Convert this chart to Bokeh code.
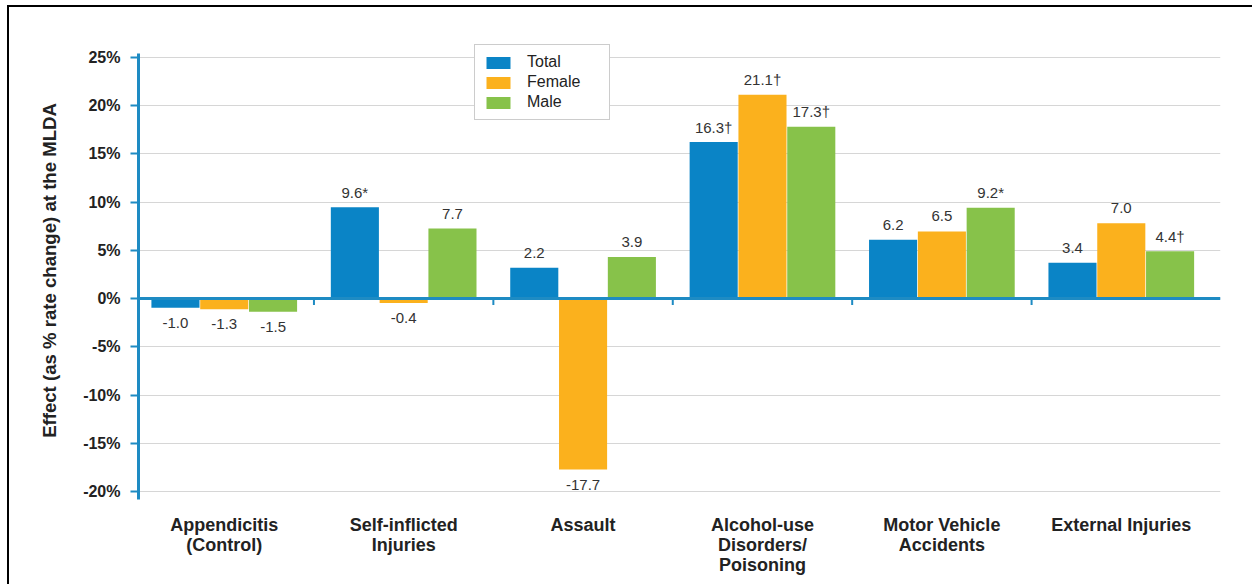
from bokeh.plotting import figure
from bokeh.models import (Range1d, FixedTicker, PrintfTickFormatter, Span,
                          Legend, LegendItem, ColumnDataSource)
from bokeh.core.properties import value
from bokeh.embed import file_html
from bokeh.resources import INLINE

# ---- data ----
categories = ["Appendicitis\n(Control)", "Self-inflicted\nInjuries", "Assault",
              "Alcohol-use\nDisorders/\nPoisoning", "Motor Vehicle\nAccidents",
              "External Injuries"]
series_names = ["Total", "Female", "Male"]
# bar heights as drawn in the picture (%)
total_vals = [-0.95, 9.45, 3.2, 16.2, 6.1, 3.7]
female_vals = [-1.1, -0.45, -17.7, 21.1, 6.95, 7.8]
male_vals = [-1.35, 7.25, 4.3, 17.8, 9.4, 4.9]
# printed value labels
total_labels = ["-1.0", "9.6*", "2.2", "16.3\u2020", "6.2", "3.4"]
female_labels = ["-1.3", "-0.4", "-17.7", "21.1\u2020", "6.5", "7.0"]
male_labels = ["-1.5", "7.7", "3.9", "17.3\u2020", "9.2*", "4.4\u2020"]
y_ticks = [-20, -15, -10, -5, 0, 5, 10, 15, 20, 25]

# ---- style ----
colors = ["#0A84C6", "#FBB11D", "#87C24A"]
axis_blue = "#1E8BC3"
FONT = "Liberation Sans"
BAR_STEP = 0.272
BAR_W = 0.268

p = figure(width=1245, height=579, output_backend="svg", toolbar_location=None,
           x_range=Range1d(-0.478, 5.553), y_range=Range1d(-20.9, 26.72),
           min_border_left=129, min_border_right=34, min_border_top=33,
           min_border_bottom=86)
p.margin = (5, 0, 0, 7)
p.styles = {"border-top": "2px solid black", "border-left": "2px solid black"}
p.outline_line_color = None
p.background_fill_color = "white"
p.border_fill_color = "white"

# grid
p.xgrid.visible = False
p.ygrid.ticker = FixedTicker(ticks=y_ticks)
p.ygrid.grid_line_color = "#d6d6d6"
p.ygrid.grid_line_width = 1

# y axis
yax = p.yaxis[0]
yax.ticker = FixedTicker(ticks=y_ticks)
yax.bounds = (-20.75, 25.4)
yax.formatter = PrintfTickFormatter(format="%d%%")
yax.axis_line_color = axis_blue
yax.axis_line_width = 3
yax.major_tick_line_color = axis_blue
yax.major_tick_line_width = 2
yax.major_tick_out = 8
yax.major_tick_in = 0
yax.minor_tick_line_color = None
yax.major_label_text_font = FONT
yax.major_label_text_font_style = "bold"
yax.major_label_text_font_size = "16px"
yax.major_label_text_color = "#222222"
yax.major_label_standoff = 10
yax.axis_label = "Effect (as % rate change) at the MLDA"
yax.axis_label_text_font = FONT
yax.axis_label_text_font_style = "bold"
yax.axis_label_text_font_size = "18.6px"
yax.axis_label_text_color = "#222222"
yax.axis_label_standoff = 20

# x axis (category labels only)
xax = p.xaxis[0]
xax.ticker = FixedTicker(ticks=list(range(len(categories))))
xax.major_label_overrides = {i: c for i, c in enumerate(categories)}
xax.axis_line_color = None
xax.major_tick_line_color = None
xax.minor_tick_line_color = None
xax.major_label_text_font = FONT
xax.major_label_text_font_style = "bold"
xax.major_label_text_font_size = "18px"
xax.major_label_text_color = "#222222"
xax.major_label_text_line_height = 1.0
xax.major_label_standoff = 8

# bars + labels
all_vals = [total_vals, female_vals, male_vals]
all_labels = [total_labels, female_labels, male_labels]
items = []
for k, (vals, labs) in enumerate(zip(all_vals, all_labels)):
    off = (k - 1) * BAR_STEP
    src = ColumnDataSource(dict(
        x=[i + off for i in range(len(categories))],
        top=vals,
        text=labs,
        yoff=[-15 if v >= 0 else 15 for v in vals],
    ))
    r = p.vbar(x="x", top="top", bottom=0, width=BAR_W, source=src,
               fill_color=colors[k], line_color=None)
    p.text(x="x", y="top", text="text", y_offset="yoff", source=src,
           text_align="center", text_baseline="middle",
           text_font=value(FONT), text_font_size="15px", text_color="#333333")
    items.append(LegendItem(label=series_names[k], renderers=[r]))

# zero line
p.add_layout(Span(location=0, dimension="width", line_color=axis_blue, line_width=3))
# category boundary ticks on the zero line
bounds = [i + 0.5 for i in range(len(categories) - 1)]
p.segment(x0=bounds, y0=[0] * len(bounds), x1=bounds, y1=[-0.65] * len(bounds),
          line_color=axis_blue, line_width=2)

legend = Legend(items=items, location=(336, 380))
legend.glyph_width = 30
legend.glyph_height = 15
legend.label_standoff = 14
legend.label_width = 74
legend.label_height = 15
legend.spacing = 2
legend.padding = 8
legend.margin = 0
legend.border_line_color = "#9a9a9a"
legend.border_line_width = 1
legend.background_fill_alpha = 1
legend.label_text_font = FONT
legend.label_text_font_size = "16px"
legend.label_text_color = "#222222"
p.add_layout(legend, "center")

open("out.html", "w").write(file_html(p, INLINE))
